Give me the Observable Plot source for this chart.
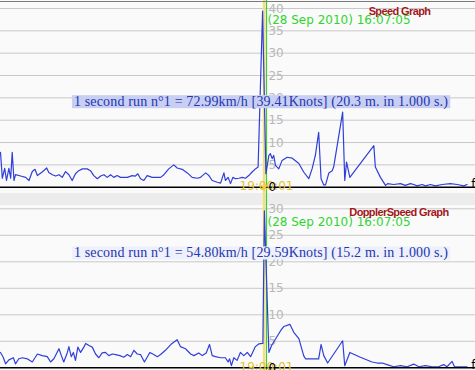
<!DOCTYPE html>
<html><head><meta charset="utf-8">
<script src="https://cdn.jsdelivr.net/npm/d3@7"></script>
<script src="https://cdn.jsdelivr.net/npm/@observablehq/plot@0.6"></script>
<style>
html,body{margin:0;padding:0;background:#fafafa;}
#wrap{position:relative;width:475px;height:370px;overflow:hidden;background:#fafafa;}
#top{position:absolute;left:0;top:0;}
#bot{position:absolute;left:0;top:188px;}
#topline{position:absolute;left:0;top:1px;width:475px;height:1px;background:#7a7a7a;}
#split{position:absolute;left:0;top:193px;width:475px;height:12px;background:#ececec;}
svg{display:block}
</style></head><body>
<div id="wrap"><div id="split"></div><div id="bot"></div><div id="top"></div><div id="topline"></div></div>
<script>
// time in seconds relative to the cursor, speed in knots
const topTime = [-88.7,-88.1,-87.3,-86.7,-85.9,-85.3,-84.8,-84.2,-83.7,-82,-80.3,-79.2,-78.1,-77.2,-76.4,-74.8,-73.3,-72.6,-71.4,-70.3,-69.2,-68.1,-67,-65.9,-64.8,-63.7,-62.6,-61.4,-59.8,-58.7,-57.6,-56.4,-55.3,-54.2,-53.1,-52,-50.9,-49.8,-48.7,-46.4,-44.8,-43.7,-42.9,-42,-40.9,-39.8,-38.1,-36.4,-35.3,-34.2,-32.6,-30.9,-29.8,-28.1,-26.4,-24.8,-23.1,-22,-20.3,-19.2,-18.1,-16.4,-15.3,-14.2,-13.7,-12.8,-12,-11.2,-10.3,-9.2,-8.1,-7,-5.9,-4.8,-3.7,-2.8,-1.3,-0.2,0.8,1.3,1.9,2.4,3,4.1,5.2,6.9,8.6,10.8,12.4,14.1,15.2,16.3,17.4,18.2,19.1,19.7,20.8,21.9,22.4,25.4,26.1,26.7,27.8,35.8,36.3,38,39.7,40.4,42.4,44.7,46.3,48,49.1,50.2,51.9,53,54.7,56.3,58.6,61.3,63.6,65.8,66.9];
const topSpeed = [7.8,2,4.2,1.5,4.2,2,7.8,1.5,2.8,2.5,2.2,1.5,3.5,4,2.6,3.4,4.3,3.3,2.8,2.5,2.8,2.2,3.5,2.8,1.5,3,3.7,4.1,4.1,3.7,2.6,1.9,2.5,2.8,2.2,2.8,2.2,2.6,2.2,2.2,2.6,2.5,3,1.9,1.5,2.6,2.2,2.2,2.2,2.8,4.1,5,4.3,4,3.2,2.2,2,2.2,3.2,2.6,1.5,1.1,0.9,3.2,1.5,2.2,0.8,2.2,1.9,2,2.2,2,2.6,3.4,4.1,4.5,39.41,3,7.1,7.5,6.4,7.1,4.9,4.1,6,6.7,6.5,5.3,3.4,1.9,4.1,7.1,12.3,1.9,0.5,0.5,3.2,3.7,4.5,16.8,1.5,5.6,2.2,9.3,4.5,2.2,0.4,0.8,0.6,0.8,0.4,0.8,0.6,0.3,0.6,0.3,0.6,0.3,0.6,0.8,0.6,0.3,0.6];

const botTime = [-88.7,-87.8,-87,-85.9,-84.4,-83.7,-82.6,-81.4,-79.8,-78.1,-76.4,-74.8,-73.1,-72,-70.9,-69.2,-68.4,-67.6,-66.4,-65.9,-65.1,-64.4,-63.7,-62.9,-62,-60.9,-60.3,-59.2,-58.1,-57,-55.9,-54.8,-53.7,-52.6,-51.4,-50.3,-48.9,-47.6,-46.4,-45.3,-44.2,-43.1,-42,-40.7,-38.9,-37.6,-36.4,-35.3,-33.7,-31.7,-29.8,-28.7,-27,-25.3,-24.2,-22.6,-21.4,-20.1,-19,-18.1,-17,-15.3,-13.7,-12.8,-12.3,-11.7,-10.9,-9.8,-8.7,-7.6,-6.4,-5.3,-3.7,-2.6,-1.2,-0.7,0.8,1.7,4.7,5.8,7.8,9.1,10.8,12.4,13,17.4,18.2,19.1,20.4,25.4,26.1,27.8,31.3,35.2,36.9,38.6,40.2,42.4,44.7,46.9,49.1,50.8,53,55.2,57.4,59.1,60.2,61.9,62.7,64.7,66.9];
const botSpeed = [2.9,2,0.75,1.5,1.9,0.75,1.7,1.9,1.7,1.1,2.6,2.3,2.1,1.1,1.7,3.6,2.3,1.1,2.9,4,2.1,2.9,1.4,3.9,2.9,3.9,4.6,4.2,3.9,2.6,1.9,2.8,2.9,2.3,2.6,2.5,2.3,2,2.5,2.1,3.3,2.6,2.5,1.1,2.9,2.5,2.1,2.5,3.3,4.5,5.3,4,3.6,2.6,2.3,2.8,2.3,2.8,4.4,2.3,2.1,1.9,1.9,1.1,1.7,0.4,1.9,1.4,2.9,2.3,2.9,2.1,4,4.5,4.6,29.59,2.9,4.2,7,7.8,8.2,6.7,5.5,2.3,1.7,1.7,4.4,2.3,0.9,5.1,0.4,2.9,2,1.1,0.9,0.9,0.6,0.2,0.4,0.2,0.7,0.2,0.4,0.2,0.2,0.6,0.2,1.2,0.2,0.2,0.2];

const topTicks = [5,10,15,20,25,30,35,40];
const botTicks = [5,10,15,20,25,30];
const xDomain = [-88.7, 69.7];
const cursorT = 0;
const runStartT = -0.8;
const runTimeLabel = "19:00:01";
const dateLabel = "(28 Sep 2010) 16:07:05";
const topTitle = "Speed Graph";
const botTitle = "DopplerSpeed Graph";
const topRun = "1 second run n°1 = 72.99km/h [39.41Knots] (20.3 m. in 1.000 s.)";
const botRun = "1 second run n°1 = 54.80km/h [29.59Knots] (15.2 m. in 1.000 s.)";

const sans = "DejaVu Sans";
function panel(o) {
  const data = o.time.map((t, i) => ({t, v: o.speed[i]}));
  return Plot.plot({
    width: 475, height: o.height, margin: 0,
    x: {domain: xDomain, range: [0, 475], axis: null},
    y: {domain: [0, o.yMax], range: [o.y0, o.yTop], axis: null},
    style: {background: "transparent", overflow: "visible"},
    marks: [
      Plot.ruleY(o.ticks, {stroke: "#c8c8c8", strokeWidth: 1}),
      Plot.text(o.ticks, {x: () => cursorT, y: d => d, text: d => String(d), dx: 2, dy: 4, textAnchor: "start", lineAnchor: "bottom", fill: "#b8b8b8", fontSize: 12, fontFamily: sans}),
      Plot.ruleX([runStartT], {stroke: "#f2e07a", strokeWidth: 2.5}),
      Plot.ruleX([cursorT], {stroke: "#3ccc3c", strokeWidth: 1.2}),
      Plot.line(data, {x: "t", y: "v", stroke: "#2f3fd8", strokeWidth: 1.2}),
      Plot.ruleY([0], {stroke: "#000", strokeWidth: 1.5}),
      Plot.text([runTimeLabel], {x: () => cursorT, y: () => 0, text: d => d, textAnchor: "middle", lineAnchor: "bottom", dy: 3, fill: "#e3c230", fontSize: 12, fontFamily: sans}),
      Plot.text(["0"], {x: () => cursorT, y: () => 0, text: d => d, dx: 2, dy: 4, textAnchor: "start", lineAnchor: "bottom", fill: "#000", fontSize: 12, fontFamily: sans}),
      Plot.text(["f"], {frameAnchor: "bottom-right", dy: o.fDy, text: d => d, textAnchor: "end", lineAnchor: "bottom", fill: "#000", fontSize: 12, fontFamily: sans}),
      Plot.text([dateLabel], {x: () => cursorT, frameAnchor: "top", dx: 1, dy: o.dateY, text: d => d, textAnchor: "start", lineAnchor: "top", fill: "#2fd52f", fontSize: 12, fontFamily: sans}),
      Plot.text([o.title], {frameAnchor: "top-right", dx: -o.titleRight, dy: o.titleY, text: d => d, textAnchor: "end", lineAnchor: "top", fill: "#a3161a", fontWeight: "bold", fontSize: 11, fontFamily: "Liberation Sans"}),
      Plot.text([o.run], {frameAnchor: "top", dx: 23, dy: o.runY, text: d => d, lineAnchor: "middle", fill: "#2436b0", fontSize: 14, fontFamily: "Liberation Serif"}),
      o.marker ? Plot.dot([runStartT], {x: d => d, y: () => 0, symbol: "asterisk", r: 3.5, stroke: "#f0cf3a", strokeWidth: 1.5}) : null
    ]
  });
}

function finish(svg, o, band) {
  svg.querySelectorAll("text").forEach(t => {
    if (t.textContent === o.title) t.style.letterSpacing = "-0.6px";
    if (t.textContent === o.run) {
      t.style.letterSpacing = "0.15px";
      const b = t.getBBox();
      const r = document.createElementNS("http://www.w3.org/2000/svg", "rect");
      r.setAttribute("x", b.x - 2);
      r.setAttribute("y", b.y + b.height / 2 - 6.5);
      r.setAttribute("width", b.width + 4);
      r.setAttribute("height", 13);
      r.setAttribute("fill", band);
      r.setAttribute("stroke", "none");
      const tr = t.getAttribute("transform");
      if (tr) r.setAttribute("transform", tr);
      t.parentNode.insertBefore(r, t);
    }
  });
}

const topOpts = {time: topTime, speed: topSpeed, ticks: topTicks, yMax: 40, height: 188, y0: 186.7, yTop: 8,
  title: topTitle, run: topRun, titleY: 7, titleRight: 45, dateY: 15, runY: 100.7, fDy: -1, marker: true};
const topSvg = panel(topOpts);
document.getElementById("top").appendChild(topSvg);
finish(topSvg, topOpts, "#c9cff2");

const botOpts = {time: botTime, speed: botSpeed, ticks: botTicks, yMax: 30, height: 182, y0: 179.3, yTop: 20.3,
  title: botTitle, run: botRun, titleY: 20, titleRight: 27, dateY: 28.5, runY: 64, fDy: -2, marker: false};
const botSvg = panel(botOpts);
document.getElementById("bot").appendChild(botSvg);
finish(botSvg, botOpts, "#eef0fb");
</script>
</body></html>
